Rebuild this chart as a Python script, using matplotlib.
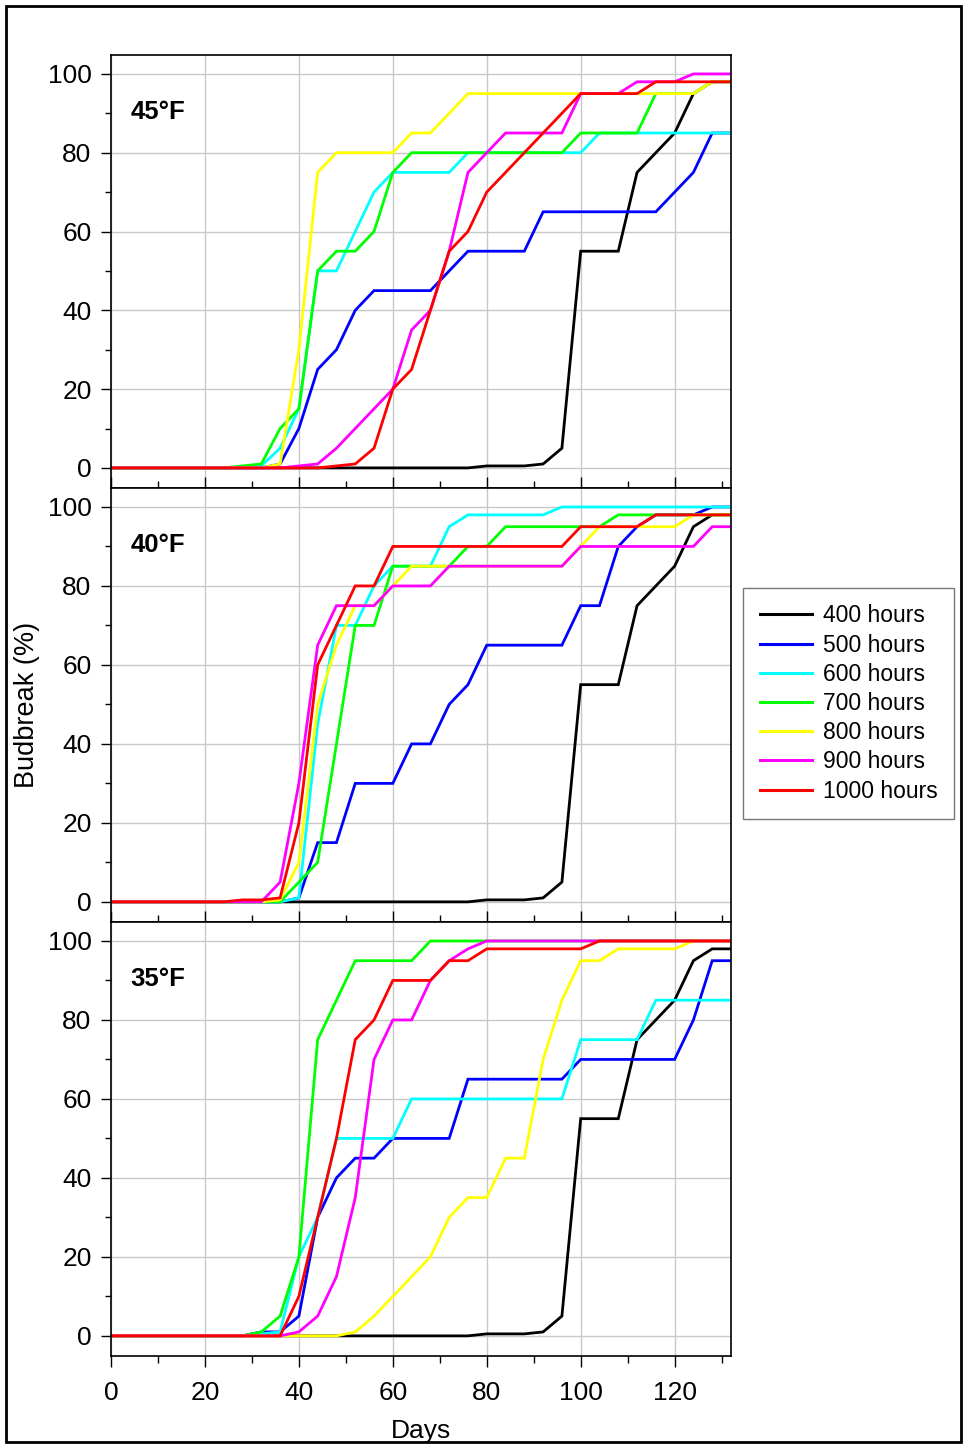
import numpy as np
import matplotlib
matplotlib.use('Agg')
import matplotlib.pyplot as plt
from matplotlib.patches import Rectangle
from matplotlib.ticker import MultipleLocator

plt.rcParams['font.family'] = ['Liberation Sans', 'DejaVu Sans']

# sampling days (every 4 days)
days = [0, 4, 8, 12, 16, 20, 24, 28, 32, 36, 40, 44, 48, 52, 56, 60, 64,
        68, 72, 76, 80, 84, 88, 92, 96, 100, 104, 108, 112, 116, 120, 124, 128, 132]

labels = ['400 hours', '500 hours', '600 hours', '700 hours',
          '800 hours', '900 hours', '1000 hours']
colors = ['#000000', '#0000ff', '#00ffff', '#00ff00', '#ffff00', '#ff00ff', '#ff0000']

# 45 F
h400_45 = [0]*20 + [0.5, 0.5, 0.5, 1, 5, 55, 55, 55, 75, 80, 85, 95, 98, 98]
h500_45 = [0]*9 + [1, 10, 25, 30, 40, 45, 45, 45, 45, 50, 55, 55, 55, 55, 65, 65,
                   65, 65, 65, 65, 65, 70, 75, 85, 85]
h600_45 = [0]*8 + [0.5, 5, 15, 50, 50, 60, 70, 75, 75, 75, 75, 80, 80, 80, 80, 80,
                   80, 80, 85, 85, 85, 85, 85, 85, 85, 85]
h700_45 = [0]*7 + [0.5, 1, 10, 15, 50, 55, 55, 60, 75, 80, 80, 80, 80, 80, 80, 80,
                   80, 80, 85, 85, 85, 85, 95, 95, 95, 98, 98]
h800_45 = [0]*9 + [1, 30, 75, 80, 80, 80, 80, 85, 85, 90, 95, 95, 95, 95, 95, 95,
                   95, 95, 95, 95, 95, 95, 95, 98, 98]
h900_45 = [0]*10 + [0.5, 1, 5, 10, 15, 20, 35, 40, 55, 75, 80, 85, 85, 85, 85, 95,
                    95, 95, 98, 98, 98, 100, 100, 100]
h1000_45 = [0]*12 + [0.5, 1, 5, 20, 25, 40, 55, 60, 70, 75, 80, 85, 90, 95, 95, 95,
                     95, 98, 98, 98, 98, 98]

# 40 F
h400_40 = [0]*20 + [0.5, 0.5, 0.5, 1, 5, 55, 55, 55, 75, 80, 85, 95, 98, 98]
h500_40 = [0]*10 + [1, 15, 15, 30, 30, 30, 40, 40, 50, 55, 65, 65, 65, 65, 65, 75,
                    75, 90, 95, 98, 98, 98, 100, 100]
h600_40 = [0]*10 + [1, 45, 70, 70, 80, 85, 85, 85, 95, 98, 98, 98, 98, 98, 100, 100,
                    100, 100, 100, 100, 100, 100, 100, 100]
h700_40 = [0]*10 + [5, 10, 40, 70, 70, 85, 85, 85, 85, 90, 90, 95, 95, 95, 95, 95,
                    95, 98, 98, 98, 98, 98, 98, 98]
h800_40 = [0]*9 + [0.5, 10, 50, 65, 75, 75, 80, 85, 85, 85, 85, 85, 85, 85, 85, 85,
                   90, 95, 95, 95, 95, 95, 98, 98, 98]
h900_40 = [0]*9 + [5, 30, 65, 75, 75, 75, 80, 80, 80, 85, 85, 85, 85, 85, 85, 85,
                   90, 90, 90, 90, 90, 90, 90, 95, 95]
h1000_40 = [0]*7 + [0.5, 0.5, 1, 20, 60, 70, 80, 80, 90, 90, 90, 90, 90, 90, 90, 90,
                    90, 90, 95, 95, 95, 95, 98, 98, 98, 98, 98]

# 35 F
h400_35 = [0]*20 + [0.5, 0.5, 0.5, 1, 5, 55, 55, 55, 75, 80, 85, 95, 98, 98]
h500_35 = [0]*8 + [1, 1, 5, 30, 40, 45, 45, 50, 50, 50, 50, 65, 65, 65, 65, 65, 65,
                   70, 70, 70, 70, 70, 70, 80, 95, 95]
h600_35 = [0]*8 + [0.5, 1, 20, 30, 50, 50, 50, 50, 60, 60, 60, 60, 60, 60, 60, 60,
                   60, 75, 75, 75, 75, 85, 85, 85, 85, 85]
h700_35 = [0]*8 + [1, 5, 20, 75, 85, 95, 95, 95, 95, 100, 100, 100, 100, 100, 100,
                   100, 100, 100, 100, 100, 100, 100, 100, 100, 100, 100]
h800_35 = [0]*13 + [1, 5, 10, 15, 20, 30, 35, 35, 45, 45, 70, 85, 95, 95, 98, 98,
                    98, 98, 100, 100, 100]
h900_35 = [0]*10 + [1, 5, 15, 35, 70, 80, 80, 90, 95, 98, 100, 100, 100, 100, 100,
                    100, 100, 100, 100, 100, 100, 100, 100, 100]
h1000_35 = [0]*10 + [10, 30, 50, 75, 80, 90, 90, 90, 95, 95, 98, 98, 98, 98, 98, 98,
                     100, 100, 100, 100, 100, 100, 100, 100]

panels = [
    ('45°F', [h400_45, h500_45, h600_45, h700_45, h800_45, h900_45, h1000_45]),
    ('40°F', [h400_40, h500_40, h600_40, h700_40, h800_40, h900_40, h1000_40]),
    ('35°F', [h400_35, h500_35, h600_35, h700_35, h800_35, h900_35, h1000_35]),
]

W, H = 966, 1448
fig = plt.figure(figsize=(W/100, H/100), dpi=100)

left, right = 111, 731
tops = [55, 488, 922]
bottoms = [488, 922, 1356]

axes = []
for i, (title, series) in enumerate(panels):
    ax = fig.add_axes([left/W, 1 - bottoms[i]/H, (right-left)/W, (bottoms[i]-tops[i])/H])
    for vals, c, lab in zip(series, colors, labels):
        ax.plot(days, vals, color=c, lw=2.0, label=lab, solid_joinstyle='miter')
    ax.set_xlim(0, 132)
    ax.set_ylim(-5.1, 104.8)
    ax.xaxis.set_major_locator(MultipleLocator(20))
    ax.xaxis.set_minor_locator(MultipleLocator(10))
    ax.yaxis.set_major_locator(MultipleLocator(20))
    ax.yaxis.set_minor_locator(MultipleLocator(10))
    ax.set_yticks([0, 20, 40, 60, 80, 100])
    ax.grid(True, which='major', color='#c8c8c8', lw=1.0)
    ax.set_axisbelow(True)
    ax.tick_params(axis='y', which='major', direction='out', length=7, width=1,
                   labelsize=19, pad=7)
    ax.tick_params(axis='y', which='minor', direction='out', length=4, width=1)
    if i < 2:
        ax.tick_params(axis='x', which='major', direction='in', length=8, width=1,
                       labelbottom=False)
        ax.tick_params(axis='x', which='minor', direction='in', length=5, width=1)
    else:
        ax.tick_params(axis='x', which='major', direction='out', length=8, width=1,
                       labelsize=19, pad=10)
        ax.tick_params(axis='x', which='minor', direction='out', length=5, width=1)
    for s in ax.spines.values():
        s.set_linewidth(1.2)
    ax.text(0.031, 0.868, title, transform=ax.transAxes, fontsize=18.5,
            fontweight='bold', va='center', ha='left')
    axes.append(ax)

axes[2].set_xlabel('Days', fontsize=19, labelpad=10)
fig.text(27/W, 1 - 705/H, 'Budbreak (%)', rotation=90, fontsize=19.5,
         ha='center', va='center')

handles, labs = axes[0].get_legend_handles_labels()
leg = fig.legend(handles, labs, loc='upper left',
                 bbox_to_anchor=(743/W, 1 - 588/H), bbox_transform=fig.transFigure,
                 fontsize=16.5, frameon=True, fancybox=False, edgecolor='#555555',
                 handlelength=2.3, labelspacing=0.27, borderpad=0.72,
                 handletextpad=0.45, borderaxespad=0)
leg.get_frame().set_linewidth(1.0)
for lh in leg.get_lines():
    lh.set_linewidth(2.2)

fig.patches.append(Rectangle((6/W, 6/H), (961-6)/W, (1442-6)/H, transform=fig.transFigure,
                             fill=False, edgecolor='black', lw=2))

fig.savefig('out.png', dpi=100)
